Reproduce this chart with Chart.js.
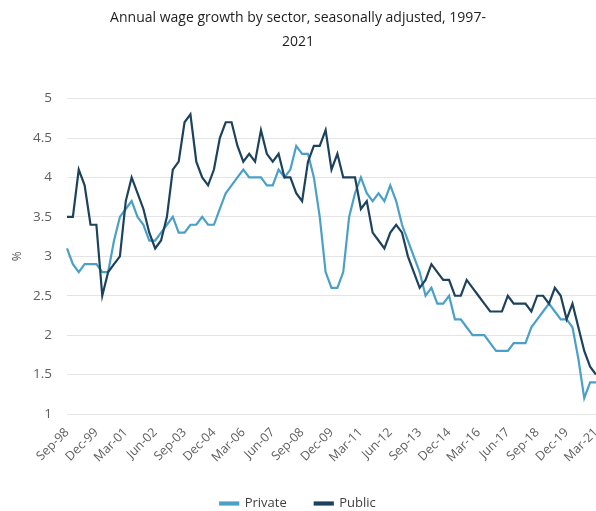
<!DOCTYPE html>
<html>
<head>
<meta charset="utf-8">
<script src="https://cdn.jsdelivr.net/npm/chart.js@4/dist/chart.umd.min.js"></script>
<style>
  body { margin: 0; background: #fff; }
  #wrap { width: 596px; height: 511px; position: relative; }
</style>
</head>
<body>
<div id="wrap"><canvas id="chart"></canvas></div>
<script>
// quarterly, Sep-98 to Mar-21
const quarters = [
  'Sep-98', 'Dec-98',
  'Mar-99', 'Jun-99', 'Sep-99', 'Dec-99',
  'Mar-00', 'Jun-00', 'Sep-00', 'Dec-00',
  'Mar-01', 'Jun-01', 'Sep-01', 'Dec-01',
  'Mar-02', 'Jun-02', 'Sep-02', 'Dec-02',
  'Mar-03', 'Jun-03', 'Sep-03', 'Dec-03',
  'Mar-04', 'Jun-04', 'Sep-04', 'Dec-04',
  'Mar-05', 'Jun-05', 'Sep-05', 'Dec-05',
  'Mar-06', 'Jun-06', 'Sep-06', 'Dec-06',
  'Mar-07', 'Jun-07', 'Sep-07', 'Dec-07',
  'Mar-08', 'Jun-08', 'Sep-08', 'Dec-08',
  'Mar-09', 'Jun-09', 'Sep-09', 'Dec-09',
  'Mar-10', 'Jun-10', 'Sep-10', 'Dec-10',
  'Mar-11', 'Jun-11', 'Sep-11', 'Dec-11',
  'Mar-12', 'Jun-12', 'Sep-12', 'Dec-12',
  'Mar-13', 'Jun-13', 'Sep-13', 'Dec-13',
  'Mar-14', 'Jun-14', 'Sep-14', 'Dec-14',
  'Mar-15', 'Jun-15', 'Sep-15', 'Dec-15',
  'Mar-16', 'Jun-16', 'Sep-16', 'Dec-16',
  'Mar-17', 'Jun-17', 'Sep-17', 'Dec-17',
  'Mar-18', 'Jun-18', 'Sep-18', 'Dec-18',
  'Mar-19', 'Jun-19', 'Sep-19', 'Dec-19',
  'Mar-20', 'Jun-20', 'Sep-20', 'Dec-20',
  'Mar-21'
];

// labels shown on the x axis
const tickLabels = ['Sep-98', 'Dec-99', 'Mar-01', 'Jun-02', 'Sep-03', 'Dec-04', 'Mar-06',
  'Jun-07', 'Sep-08', 'Dec-09', 'Mar-11', 'Jun-12', 'Sep-13', 'Dec-14', 'Mar-16',
  'Jun-17', 'Sep-18', 'Dec-19', 'Mar-21'];

const privateGrowth = [
  3.1, 2.9, 2.8, 2.9, 2.9, 2.9, 2.8, 2.8, 3.2, 3.5,
  3.6, 3.7, 3.5, 3.4, 3.2, 3.2, 3.3, 3.4, 3.5, 3.3,
  3.3, 3.4, 3.4, 3.5, 3.4, 3.4, 3.6, 3.8, 3.9, 4.0,
  4.1, 4.0, 4.0, 4.0, 3.9, 3.9, 4.1, 4.0, 4.1, 4.4,
  4.3, 4.3, 4.0, 3.5, 2.8, 2.6, 2.6, 2.8, 3.5, 3.8,
  4.0, 3.8, 3.7, 3.8, 3.7, 3.9, 3.7, 3.4, 3.2, 3.0,
  2.8, 2.5, 2.6, 2.4, 2.4, 2.5, 2.2, 2.2, 2.1, 2.0,
  2.0, 2.0, 1.9, 1.8, 1.8, 1.8, 1.9, 1.9, 1.9, 2.1,
  2.2, 2.3, 2.4, 2.3, 2.2, 2.2, 2.1, 1.7, 1.2, 1.4,
  1.4
];

const publicGrowth = [
  3.5, 3.5, 4.1, 3.9, 3.4, 3.4, 2.5, 2.8, 2.9, 3.0,
  3.7, 4.0, 3.8, 3.6, 3.3, 3.1, 3.2, 3.5, 4.1, 4.2,
  4.7, 4.8, 4.2, 4.0, 3.9, 4.1, 4.5, 4.7, 4.7, 4.4,
  4.2, 4.3, 4.2, 4.6, 4.3, 4.2, 4.3, 4.0, 4.0, 3.8,
  3.7, 4.2, 4.4, 4.4, 4.6, 4.1, 4.3, 4.0, 4.0, 4.0,
  3.6, 3.7, 3.3, 3.2, 3.1, 3.3, 3.4, 3.3, 3.0, 2.8,
  2.6, 2.7, 2.9, 2.8, 2.7, 2.7, 2.5, 2.5, 2.7, 2.6,
  2.5, 2.4, 2.3, 2.3, 2.3, 2.5, 2.4, 2.4, 2.4, 2.3,
  2.5, 2.5, 2.4, 2.6, 2.5, 2.2, 2.4, 2.1, 1.8, 1.6,
  1.5
];

const FONT = "'Open Sans', 'Noto Sans', sans-serif";
const TEXT = '#5f5f5f';

// legend keeps wide spacing between items but sits close to the bottom edge
const legendHeight = {
  id: 'legendHeight',
  beforeLayout(chart) {
    const lg = chart.legend;
    if (lg && !lg._fixed) {
      const fit = lg.fit.bind(lg);
      lg.fit = function () { fit(); this.height = 42; };
      lg._fixed = true;
    }
  }
};

new Chart(document.getElementById('chart'), {
  type: 'line',
  data: {
    labels: quarters,
    datasets: [{
      label: 'Private',
      data: privateGrowth,
      borderColor: '#4aa0c8',
      backgroundColor: '#4aa0c8',
      borderWidth: 2.2,
      pointRadius: 0,
      order: 1
    }, {
      label: 'Public',
      data: publicGrowth,
      borderColor: '#1d425e',
      backgroundColor: '#1d425e',
      borderWidth: 2.2,
      pointRadius: 0,
      order: 0
    }]
  },
  plugins: [legendHeight],
  options: {
    responsive: true,
    maintainAspectRatio: false,
    animation: false,
    layout: { padding: 0 },
    scales: {
      x: {
        grid: { display: false },
        border: { display: false },
        ticks: {
          autoSkip: false,
          minRotation: 45,
          maxRotation: 45,
          padding: 3,
          color: TEXT,
          font: { family: FONT, size: 12.5 },
          callback: function (value) {
            const lbl = this.getLabelForValue(value);
            return tickLabels.includes(lbl) ? lbl : null;
          }
        },
        afterFit: (scale) => {
          scale.height = 55;
          scale.paddingRight = 0; // plot runs to the right edge
        }
      },
      y: {
        min: 1,
        max: 5,
        ticks: {
          stepSize: 0.5,
          padding: 15,
          color: TEXT,
          font: { family: FONT, size: 13.5 },
          callback: (v) => String(v)
        },
        grid: { color: '#e4e4e4', drawTicks: false },
        border: { display: false },
        title: {
          display: true,
          text: '%',
          color: '#555',
          padding: { top: 10, bottom: 0 },
          font: { family: FONT, size: 12 }
        },
        afterFit: (scale) => { scale.width = 67; }
      }
    },
    plugins: {
      title: {
        display: true,
        text: ['Annual wage growth by sector, seasonally adjusted, 1997-', '2021'],
        color: '#1e1e1e',
        padding: { top: 6, bottom: 45 },
        font: { family: FONT, size: 14, weight: '500', lineHeight: 1.7 }
      },
      legend: {
        position: 'bottom',
        labels: {
          boxWidth: 18,
          boxHeight: 2,
          padding: 28,
          color: '#404040',
          font: { family: FONT, size: 13 },
          sort: (a, b) => a.datasetIndex - b.datasetIndex
        }
      },
      tooltip: { enabled: false }
    }
  }
});
</script>
</body>
</html>
